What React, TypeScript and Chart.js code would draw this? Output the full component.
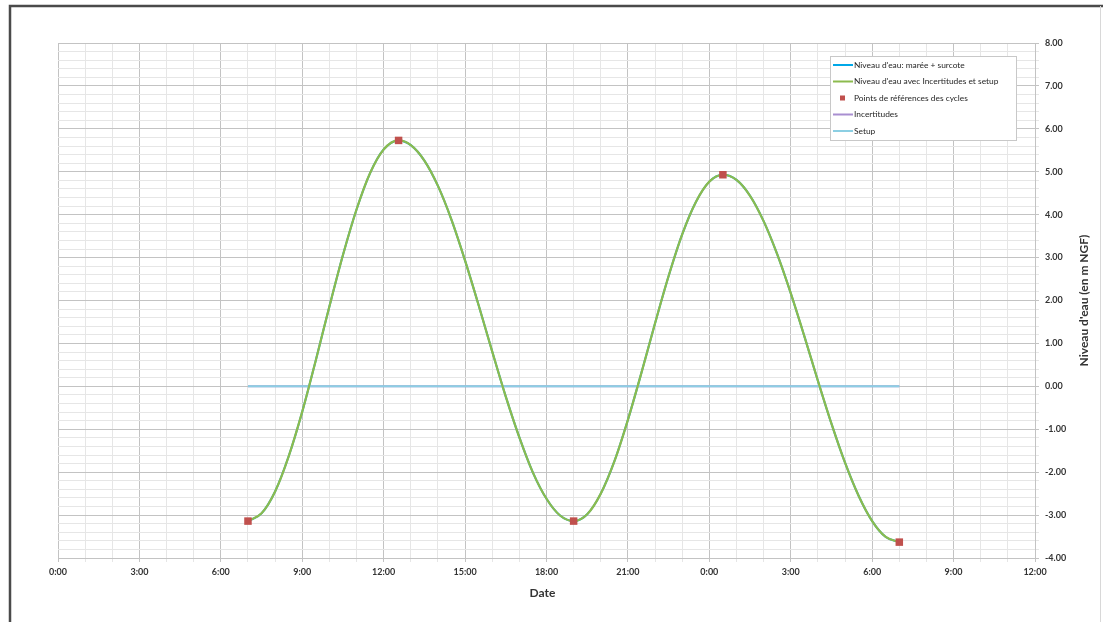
import React, { useEffect, useRef } from "react";
import { Chart, registerables } from "chart.js";

Chart.register(...registerables);

// ---- Data (hours from 0:00 of day 1; water level in m NGF) ----
const curveHours = [
  7, 7.5, 8, 8.5, 9, 9.5, 10, 10.5, 11, 11.5, 12, 12.55,
  13, 13.5, 14, 14.5, 15, 15.5, 16, 16.5, 17, 17.5, 18, 18.5, 19,
  19.5, 20, 20.5, 21, 21.5, 22, 22.5, 23, 23.5, 24, 24.5,
  25, 25.5, 26, 26.5, 27, 27.5, 28, 28.5, 29, 29.5, 30, 30.5, 31,
];
const curveLevels = [
  -3.14, -2.96, -2.45, -1.63, -0.59, 0.61, 1.86, 3.06, 4.12, 4.97, 5.52, 5.73,
  5.62, 5.26, 4.67, 3.88, 2.93, 1.89, 0.81, -0.24, -1.19, -2.01, -2.62, -3.01, -3.14,
  -2.98, -2.5, -1.75, -0.78, 0.32, 1.47, 2.57, 3.54, 4.29, 4.77, 4.93,
  4.81, 4.44, 3.85, 3.08, 2.17, 1.17, 0.13, -0.87, -1.78, -2.55, -3.14, -3.51, -3.63,
];
const refHours = [7, 12.55, 19, 24.5, 31];
const refLevels = [-3.14, 5.73, -3.14, 4.93, -3.63];
const setupHours = [7, 31];
const setupLevels = [0, 0];
const incertHours = [7, 31];
const incertLevels = [0, 0];

const seriesLabels = [
  "Niveau d'eau: marée + surcote",
  "Niveau d'eau avec Incertitudes et setup",
  "Points de références des cycles",
  "Incertitudes",
  "Setup",
];
const xTickLabels = ["0:00", "3:00", "6:00", "9:00", "12:00", "15:00", "18:00", "21:00", "0:00", "3:00", "6:00", "9:00", "12:00"];
const xAxisTitle = "Date";
const yAxisTitle = "Niveau d'eau (en m NGF)";

const FONT = "Lato, 'Liberation Sans', sans-serif";
const MAJOR = "#c3c3c3";
const MINOR = "#e6e6e6";

const toXY = (xs: number[], ys: number[]) => xs.map((x, i) => ({ x, y: ys[i] }));

const framePlugin = {
  id: "frame",
  beforeDraw(chart: any) {
    const ctx = chart.ctx;
    ctx.save();
    ctx.fillStyle = "#ffffff";
    ctx.fillRect(0, 0, chart.width, chart.height);
    ctx.strokeStyle = "#4a4a4a";
    ctx.lineWidth = 2.5;
    ctx.beginPath();
    ctx.moveTo(10, 622);
    ctx.lineTo(10, 6);
    ctx.lineTo(1103, 6);
    ctx.stroke();
    ctx.strokeStyle = "#d8d8d8";
    ctx.lineWidth = 1;
    ctx.beginPath();
    ctx.moveTo(1100.5, 6);
    ctx.lineTo(1100.5, 622);
    ctx.stroke();
    ctx.restore();
  },
};

const titlesPlugin = {
  id: "titles",
  afterDraw(chart: any) {
    const ctx = chart.ctx;
    const ca = chart.chartArea;
    ctx.save();
    ctx.fillStyle = "#333333";
    ctx.font = `bold 12px ${FONT}`;
    ctx.textAlign = "center";
    ctx.textBaseline = "middle";
    ctx.fillText(xAxisTitle, (ca.left + ca.right) / 2 - 4, 593);
    ctx.translate(1084, (ca.top + ca.bottom) / 2);
    ctx.rotate(-Math.PI / 2);
    ctx.fillText(yAxisTitle, 0, 0);
    ctx.restore();
  },
};

const legendPlugin = {
  id: "boxLegend",
  afterDraw(chart: any) {
    const ctx = chart.ctx;
    const ca = chart.chartArea;
    const w = 186;
    const h = 84;
    const x0 = Math.round(ca.right - 19 - w);
    const y0 = Math.round(ca.top + 13);
    ctx.save();
    ctx.fillStyle = "#ffffff";
    ctx.fillRect(x0, y0, w, h);
    ctx.strokeStyle = "#c8c8c8";
    ctx.lineWidth = 1;
    ctx.strokeRect(x0 + 0.5, y0 + 0.5, w, h);
    ctx.font = `8.4px ${FONT}`;
    ctx.textBaseline = "middle";
    ctx.textAlign = "left";
    chart.data.datasets.forEach((ds: any, i: number) => {
      const y = y0 + 9 + i * 16.5;
      if (ds.showLine === false) {
        ctx.fillStyle = ds.backgroundColor;
        ctx.fillRect(x0 + 10, y - 2.5, 5, 5);
      } else {
        ctx.strokeStyle = ds.borderColor;
        ctx.lineWidth = 2;
        ctx.beginPath();
        ctx.moveTo(x0 + 3, y);
        ctx.lineTo(x0 + 23, y);
        ctx.stroke();
      }
      ctx.fillStyle = "#262626";
      ctx.fillText(ds.label, x0 + 24, y);
    });
    ctx.restore();
  },
};

export default function App() {
  const canvasRef = useRef<HTMLCanvasElement | null>(null);

  useEffect(() => {
    const canvas = canvasRef.current;
    if (!canvas) return;
    const chart = new Chart(canvas, {
      type: "line",
      data: {
        datasets: [
          {
            label: seriesLabels[0],
            data: toXY(curveHours, curveLevels),
            borderColor: "#00a8e8",
            backgroundColor: "#00a8e8",
            borderWidth: 2,
            pointRadius: 0,
            cubicInterpolationMode: "monotone",
            order: 3,
          },
          {
            label: seriesLabels[1],
            data: toXY(curveHours, curveLevels),
            borderColor: "#8cbb4e",
            backgroundColor: "#8cbb4e",
            borderWidth: 2.2,
            pointRadius: 0,
            cubicInterpolationMode: "monotone",
            order: 1,
          },
          {
            label: seriesLabels[2],
            data: toXY(refHours, refLevels),
            showLine: false,
            borderColor: "#c0504d",
            backgroundColor: "#c0504d",
            pointStyle: "rect",
            pointRadius: 5.3,
            borderWidth: 0,
            order: 0,
          },
          {
            label: seriesLabels[3],
            data: toXY(incertHours, incertLevels),
            borderColor: "#a98fd1",
            backgroundColor: "#a98fd1",
            borderWidth: 2,
            pointRadius: 0,
            order: 4,
          },
          {
            label: seriesLabels[4],
            data: toXY(setupHours, setupLevels),
            borderColor: "#8ccfe3",
            backgroundColor: "#8ccfe3",
            borderWidth: 2,
            pointRadius: 0,
            order: 2,
          },
        ],
      },
      options: {
        responsive: false,
        animation: false,
        layout: { padding: { left: 58, top: 43, right: 0, bottom: 0 } },
        plugins: {
          legend: { display: false },
          tooltip: { enabled: false },
          title: { display: false },
        },
        scales: {
          x: {
            type: "linear",
            position: "bottom",
            min: 0,
            max: 36,
            afterFit: (scale: any) => {
              scale.height = 64;
            },
            grid: {
              color: (c: any) => (c.tick && Math.round(c.tick.value) % 3 === 0 ? MAJOR : MINOR),
              tickLength: 4,
              lineWidth: 1,
            },
            border: { color: MAJOR },
            ticks: {
              stepSize: 1,
              autoSkip: false,
              maxRotation: 0,
              padding: 5,
              color: "#333333",
              font: { family: FONT, size: 9, weight: "bold" },
              callback: (v: any) => {
                const n = Math.round(Number(v));
                return n % 3 === 0 ? xTickLabels[n / 3] : "";
              },
            },
          },
          y: {
            type: "linear",
            position: "right",
            min: -4,
            max: 8,
            afterFit: (scale: any) => {
              scale.width = 68;
            },
            grid: {
              color: (c: any) =>
                c.tick && Math.abs(c.tick.value - Math.round(c.tick.value)) < 1e-6 ? MAJOR : MINOR,
              tickLength: 4,
              lineWidth: 1,
            },
            border: { color: MAJOR },
            ticks: {
              stepSize: 0.2,
              autoSkip: false,
              padding: 6,
              color: "#333333",
              font: { family: FONT, size: 9, weight: "bold" },
              callback: (v: any) => {
                const n = Number(v);
                return Math.abs(n - Math.round(n)) < 1e-6 ? Math.round(n).toFixed(2) : "";
              },
            },
          },
        },
      },
      plugins: [framePlugin, titlesPlugin, legendPlugin],
    } as any);
    return () => chart.destroy();
  }, []);

  return (
    <div style={{ position: "absolute", left: 0, top: 0, width: 1103, height: 622, background: "#fff" }}>
      <canvas ref={canvasRef} width={1103} height={622} style={{ display: "block" }} />
    </div>
  );
}
